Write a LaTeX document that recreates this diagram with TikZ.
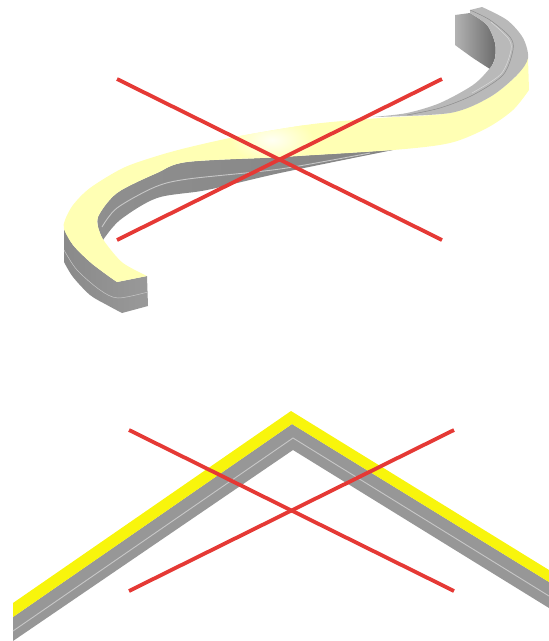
\documentclass[tikz,border=0pt]{standalone}
\definecolor{palered}{HTML}{E53935}
\definecolor{paleyellow}{HTML}{FFFFB4}
\definecolor{flatyellow}{HTML}{F8F50C}
\definecolor{flatgrey}{HTML}{979797}
\definecolor{facegrey}{HTML}{B9B9B9}
\newcommand{\thecross}[2]{
    \coordinate (nw) at (#1,#2);
    \coordinate (ne) at (#1+325,#2);
    \coordinate (sw) at (#1,#2+161);
    \coordinate (se) at (#1+325,#2+161);
    \draw[crossline] (nw) -- (se);
    \draw[crossline] (sw) -- (ne);
}
\newcommand{\yellowface}{
    plot[smooth] coordinates {(117,282) (107,275) (90,262) (73,245) (64,229) (65,220) (73,205) (90,188) (123,168) (157,156) (190,147) (240,136) (313,124) (380,118) (450,113) (490,97) (517,75) (528,58)}
    -- (529,90)
    -- plot[smooth] coordinates {(529,90) (513,110) (487,128) (450,143) (393,150) (280,157) (187,162) (157,173) (117,193) (98,217) (100,233) (107,245) (123,263) (147,276)} -- cycle
}
\tikzset{x=1pt, y=-1pt,
    crossline/.style={line width=3.8pt, palered},
    seamline/.style={line width=0.9pt, black!22},
    darkseam/.style={line width=0.5pt, black!45}}

\begin{document}
\begin{tikzpicture}
    \useasboundingbox (0,0) rectangle (549,641);
    % twisted strip
    \shade[left color=black!46, right color=black!40]
        plot[smooth] coordinates {(64,229) (73,245) (90,262) (107,275) (117,282)}
        -- (147,276) -- (148,306) -- (122,313)
        -- plot[smooth] coordinates {(122,313) (107,305) (90,295) (73,277) (64,262)} -- cycle;
    \draw[black!22, line width=0.5pt] plot[smooth] coordinates {(64,250) (77,270) (100,290) (118,298) (148,292)};
    \shade[left color=black!44, middle color=black!36, right color=black!48]
        plot[smooth] coordinates {(100,233) (98,217) (117,193) (157,173) (187,162) (280,157) (393,150)}
        -- plot[smooth] coordinates {(393,150) (280,173) (207,190) (157,198) (120,220) (103,240)} -- cycle;
    \draw[seamline] plot[smooth] coordinates {(102,227) (117,208) (155,187) (188,179) (280,169) (370,153)};
    \fill[paleyellow] \yellowface;
    \begin{scope}
        \clip \yellowface;
        \shade[inner color=white!85!paleyellow, outer color=paleyellow]
            (272,140) ellipse (42 and 22);
    \end{scope}
    \shade[left color=black!30, middle color=black!48, right color=black!58]
        (455,15) -- (470,13)
        -- plot[smooth] coordinates {(470,13) (487,25) (495,43) (495,58) (490,69)}
        -- plot[smooth] coordinates {(490,69) (473,58) (455,45)} -- cycle;
    \fill[facegrey]
        plot[smooth] coordinates {(373,117) (450,113) (490,97) (517,75) (528,58) (523,38) (507,20) (482,7)}
        -- (470,10)
        -- plot[smooth] coordinates {(470,13) (487,25) (495,43) (495,58) (490,68) (473,85) (440,103) (407,113) (373,117)} -- cycle;
    \draw[darkseam] plot[smooth] coordinates {(470,10) (490,20) (510,37) (513,50) (503,75) (473,95) (440,108) (407,115)};
    \draw[black!15, line width=0.5pt] plot[smooth] coordinates {(491,22) (508,38) (511,50) (501,74) (472,93)};
    \thecross{117}{79}
    % flat strip
    \fill[flatgrey] (13,617) -- (292,424) -- (549,582) -- (549,608) -- (293,450) -- (13,641) -- cycle;
    \fill[flatyellow] (13,603) -- (291,411) -- (549,570) -- (549,582) -- (292,424) -- (13,617) -- cycle;
    \draw[seamline] (13,631) -- (293,438) -- (549,596);
    \thecross{129}{430}
\end{tikzpicture}
\end{document}
